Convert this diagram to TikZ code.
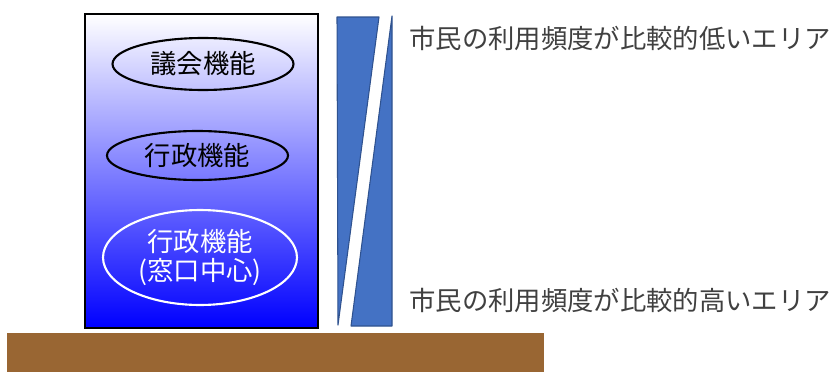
\documentclass[tikz,border=0pt]{standalone}
\usepackage{fontspec}
\setmainfont{Noto Sans CJK JP}
\usetikzlibrary{positioning,shapes.geometric}
\definecolor{bandblue}{HTML}{4472C4}
\definecolor{bandline}{HTML}{2F528F}
\definecolor{groundbrown}{HTML}{996633}
\tikzset{
  hallbox/.style={draw,rectangle,line width=1.2pt,minimum width=4.66cm,minimum height=6.28cm,top color=white,bottom color=blue,inner sep=0pt},
  funcell/.style={ellipse,draw,line width=1.2pt,inner sep=0pt,align=center,font=\fontsize{15}{16.5}\selectfont},
  bandpart/.style={fill=bandblue,draw=bandline,line width=0.6pt,line join=round},
  arealbl/.style={anchor=west,inner sep=0pt,text=black!75,font=\fontsize{15}{17}\selectfont},
  groundblk/.style={rectangle,fill=groundbrown,minimum width=10.74cm,minimum height=0.78cm,inner sep=0pt}
}

\begin{document}
\begin{tikzpicture}[x=0.02cm,y=-0.02cm]
  \useasboundingbox (0,0) rectangle (838,372);

  \node[hallbox] (hall) at (201.5,171) {};
  \node[funcell, minimum width=3.62cm, minimum height=1.04cm] (gikai) at (203,64) {議会機能};
  \node[funcell, minimum width=3.62cm, minimum height=0.98cm] (gyosei) at (197.5,155.5) {行政機能};
  \node[funcell, draw=white, text=white, minimum width=3.88cm, minimum height=1.9cm] (madoguchi) at (200,257.5) {行政機能\\(窓口中心)};

  \node[groundblk] (ground) at (275.5,352.5) {};

  % usage band
  \draw[bandpart] (337,17) -- (379,17) -- (338,325) -- cycle;
  \draw[bandpart] (392,16) -- (392,326) -- (351,326) -- cycle;

  \node[arealbl] (low) at (409,38) {市民の利用頻度が比較的低いエリア};
  \node[arealbl] (high) at (409,300) {市民の利用頻度が比較的高いエリア};
\end{tikzpicture}
\end{document}
